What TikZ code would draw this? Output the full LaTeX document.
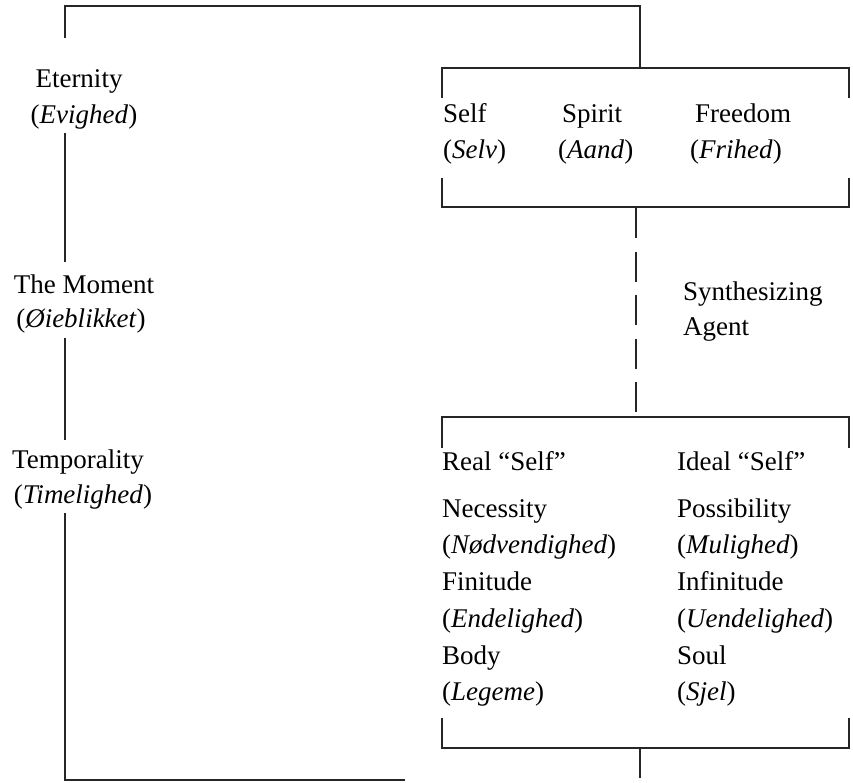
\documentclass[tikz,border=0pt]{standalone}
\usepackage{fontspec}
\setmainfont{Liberation Serif}
\begin{document}
\begin{tikzpicture}[x=1pt,y=-1pt,
  rule/.style={line width=1.1pt, black!85},
  dashrule/.style={rule, line width=1.6pt, dash pattern=on 30pt off 13.5pt},
  lbl/.style={inner sep=0pt, font=\fontsize{27}{32}\selectfont},
  lft/.style={lbl, anchor=base west},
  ctr/.style={lbl, anchor=base}]
\useasboundingbox (0,0) rectangle (853,782);

% left column labels
\node[ctr] (eter) at (79,87) {Eternity};
\node[ctr] (evig) at (84,123) {(\textit{Evighed})};
\node[ctr] (mom)  at (84,293) {The Moment};
\node[ctr] (oieb) at (81,327) {(\textit{Øieblikket})};
\node[ctr] (temp) at (78,468) {Temporality};
\node[ctr] (time) at (83,503) {(\textit{Timelighed})};

% upper box labels
\node[lft] (self)  at (443,122) {Self};
\node[lft] (selv)  at (443,158) {(\textit{Selv})};
\node[lft] (spir)  at (562,122) {Spirit};
\node[lft] (aand)  at (558,158) {(\textit{Aand})};
\node[lft] (free)  at (695,122) {Freedom};
\node[lft] (frih)  at (690,158) {(\textit{Frihed})};

% synthesizing agent
\node[lft] (synth) at (683,300) {Synthesizing};
\node[lft] (agent) at (683,335) {Agent};

% lower box labels
\node[lft] (real)  at (442,470) {Real “Self”};
\node[lft] (ideal) at (677,470) {Ideal “Self”};
\node[lft] (nec)   at (442,517) {Necessity};
\node[lft] (nod)   at (442,553) {(\textit{Nødvendighed})};
\node[lft] (fin)   at (442,590) {Finitude};
\node[lft] (end)   at (442,627) {(\textit{Endelighed})};
\node[lft] (body)  at (442,664) {Body};
\node[lft] (leg)   at (442,700) {(\textit{Legeme})};
\node[lft] (poss)  at (677,517) {Possibility};
\node[lft] (mul)   at (677,553) {(\textit{Mulighed})};
\node[lft] (inf)   at (677,590) {Infinitude};
\node[lft] (uend)  at (677,627) {(\textit{Uendelighed})};
\node[lft] (soul)  at (677,664) {Soul};
\node[lft] (sjel)  at (677,700) {(\textit{Sjel})};

% coordinates of the frame
\coordinate (tl) at (64,6);
\coordinate (tr) at (640,6);
\coordinate (l1) at (65,38);
\coordinate (l2) at (65,133);
\coordinate (l3) at (65,262);
\coordinate (l4) at (65,338);
\coordinate (l5) at (65,440);
\coordinate (l6) at (65,513);
\coordinate (bl) at (64,780);
\coordinate (br) at (405,780);

% upper box
\coordinate (ua) at (442,98);
\coordinate (ub) at (442,68);
\coordinate (uc) at (849,68);
\coordinate (ud) at (849,98);
\coordinate (ue) at (442,178);
\coordinate (uf) at (442,207);
\coordinate (ug) at (849,207);
\coordinate (uh) at (849,178);
\coordinate (utop) at (640,68);

% dashed link
\coordinate (d1) at (636,208);
\coordinate (d2) at (636,412);

% lower box
\coordinate (la) at (442,448);
\coordinate (lb) at (442,417);
\coordinate (lc) at (849,417);
\coordinate (ld) at (849,448);
\coordinate (le) at (442,718);
\coordinate (lf) at (442,748);
\coordinate (lg) at (849,748);
\coordinate (lh) at (849,718);
\coordinate (lbot) at (640,748);
\coordinate (lend) at (640,778);

% frame
\draw[rule] (l1) -- (65,6);
\draw[rule] (tl) -- (tr) -- (utop);
\draw[rule] (l2) -- (l3);
\draw[rule] (l4) -- (l5);
\draw[rule] (l6) -- (65,780);
\draw[rule] (bl) -- (br);

% boxes
\draw[rule] (ua) -- (ub) -- (uc) -- (ud);
\draw[rule] (ue) -- (uf) -- (ug) -- (uh);
\draw[dashrule] (d1) -- (d2);
\draw[rule] (la) -- (lb) -- (lc) -- (ld);
\draw[rule] (le) -- (lf) -- (lg) -- (lh);
\draw[rule] (lbot) -- (lend);
\end{tikzpicture}
\end{document}
